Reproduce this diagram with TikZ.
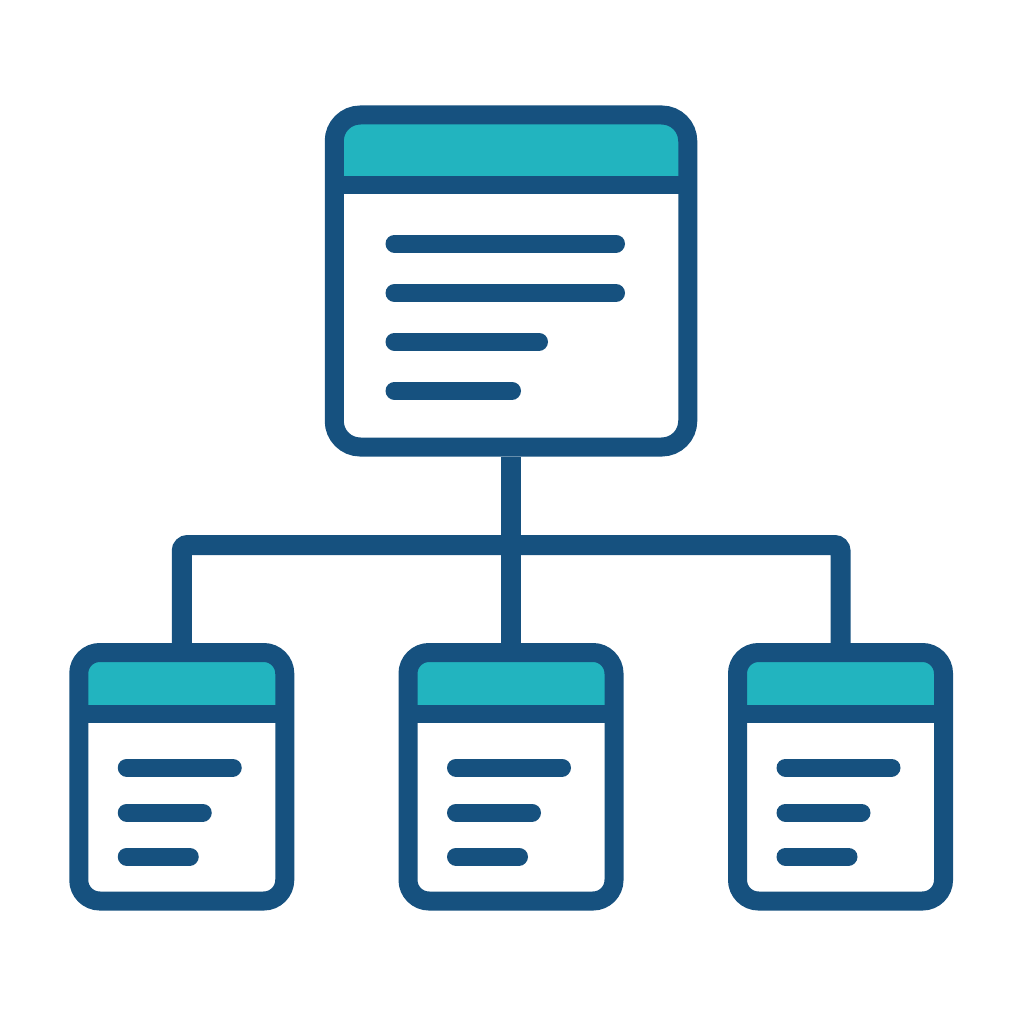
\documentclass[tikz,border=0pt]{standalone}
\definecolor{navy}{HTML}{16517F}
\definecolor{tealhead}{HTML}{22B4BF}
\begin{document}
\begin{tikzpicture}[x=1pt,y=-1pt,
        header/.style={path picture={
            \fill[tealhead] (path picture bounding box.north west) rectangle ([yshift=-#1]path picture bounding box.north east);
            \draw[navy, line width=18pt] ([yshift=-#1]path picture bounding box.north west) -- ([yshift=-#1]path picture bounding box.north east);
            }},
        bigdoc/.style={draw=navy, fill=white, line width=19pt, rounded corners=26pt,
            inner sep=0pt, minimum width=353.5pt, minimum height=332pt, header=70.5pt},
        smalldoc/.style={draw=navy, fill=white, line width=19pt, rounded corners=21pt,
            inner sep=0pt, minimum width=206pt, minimum height=248.5pt, header=61.5pt},
        bar/.style={navy, line width=18pt, line cap=round},
        link/.style={navy, line width=20pt, rounded corners=6pt}]
        \useasboundingbox (0,0) rectangle (1024,1024);
        \node[bigdoc] (root) at (511,281) {};
        \node[smalldoc] (leftdoc) at (181.75,776.75) {};
        \node[smalldoc] (middoc) at (511,776.75) {};
        \node[smalldoc] (rightdoc) at (840.5,776.75) {};
        \coordinate (bus) at (511,545);
        \draw[link] (root.south) -- (middoc.north);
        \draw[link] (leftdoc.north) |- (bus) -| (rightdoc.north);
        \draw[bar] (394.5,243.5) -- (616,243.5);
        \draw[bar] (394.5,293) -- (616,293);
        \draw[bar] (394.5,341.7) -- (539,341.7);
        \draw[bar] (394.5,390.8) -- (512,390.8);
        \foreach \cx in {181.75,511,840.5}{
            \draw[bar] (\cx-55,767.5) -- (\cx+51,767.5);
            \draw[bar] (\cx-55,812.5) -- (\cx+21,812.5);
            \draw[bar] (\cx-55,856.5) -- (\cx+8,856.5);
            };
    \end{tikzpicture}
\end{document}
